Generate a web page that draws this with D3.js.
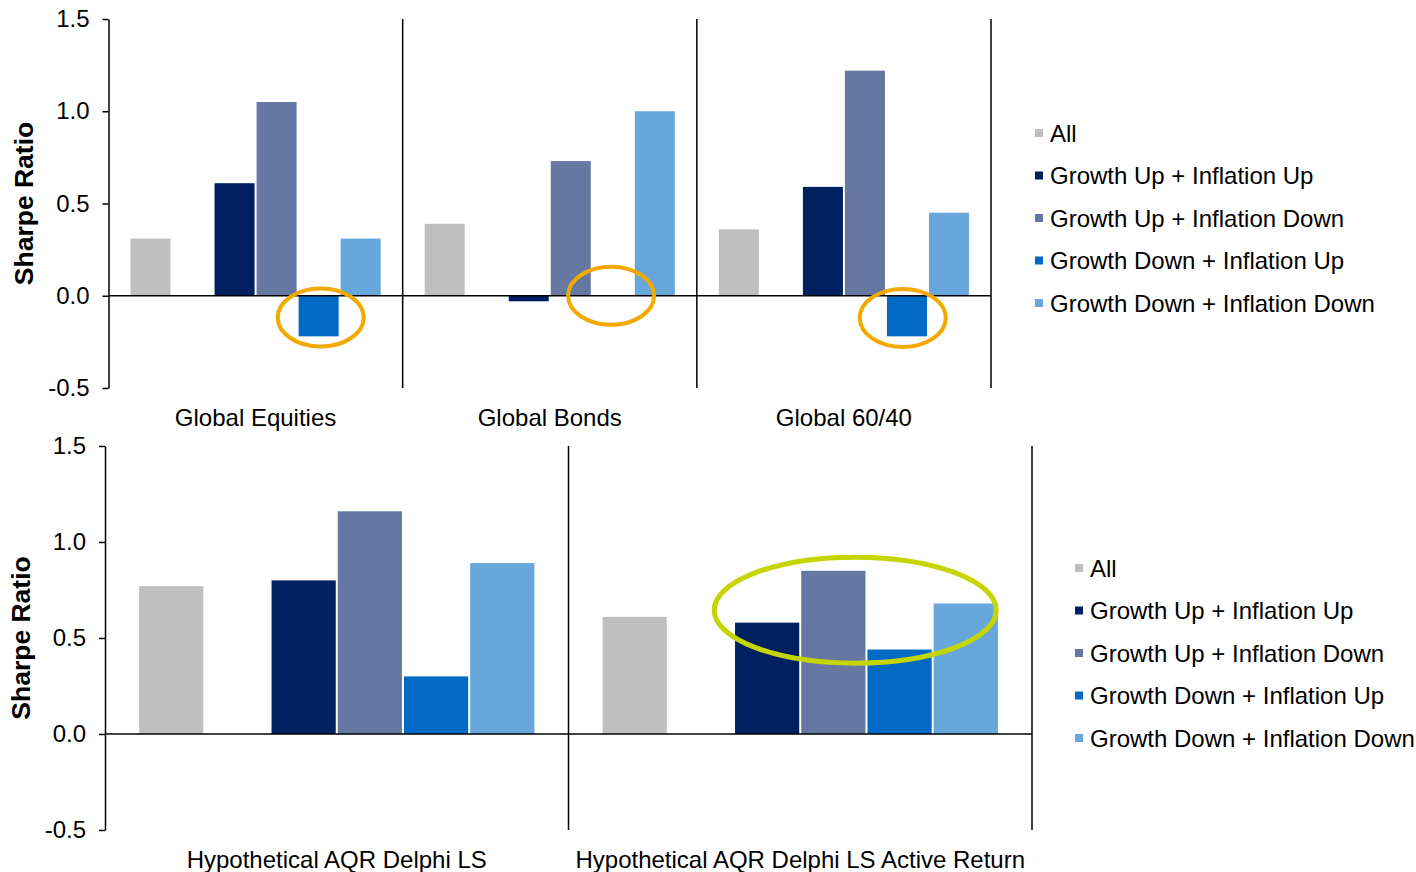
<!DOCTYPE html>
<html>
<head>
<meta charset="utf-8" />
<title>Sharpe Ratio by Growth / Inflation Regime</title>
<script src="https://d3js.org/d3.v7.min.js"></script>
<style>
  body { margin: 0; background: #fff; }
  svg text { font-family: "Liberation Sans", Arial, sans-serif; fill: #000; }
</style>
</head>
<body>
<svg width="1416" height="872"></svg>
<script>
    // Series (legend order)
    var series = ["All", "Growth Up + Inflation Up", "Growth Up + Inflation Down",
                  "Growth Down + Inflation Up", "Growth Down + Inflation Down"];
    var colors = ["#bfbfbf", "#002060", "#6678a2", "#006ac4", "#68a7dc"];

    // Groups
    var topGroups = ["Global Equities", "Global Bonds", "Global 60/40"];
    var bottomGroups = ["Hypothetical AQR Delphi LS", "Hypothetical AQR Delphi LS Active Return"];

    // Sharpe ratios, one array per group, in series order
    var globalEquities = [0.31, 0.61, 1.05, -0.22, 0.31];
    var globalBonds = [0.39, -0.03, 0.73, 0.00, 1.00];
    var global6040 = [0.36, 0.59, 1.22, -0.22, 0.45];
    var delphiLS = [0.77, 0.80, 1.16, 0.30, 0.89];
    var delphiActive = [0.61, 0.58, 0.85, 0.44, 0.68];

    // Y axis ticks
    var yTicks = [-0.5, 0.0, 0.5, 1.0, 1.5];

    var svg = d3.select("svg");
    svg.append("rect").attr("width", 1416).attr("height", 872).attr("fill", "#fff");

    // slot layout inside each group: All, (blank), then the four regimes
    var slotOf = function (i) { return i === 0 ? 0 : i + 1; };

    function drawPanel(cfg) {
        var g = svg.append("g");

        var y = d3.scaleLinear().domain([-0.5, 1.5]).range([cfg.bottom, cfg.top]);
        var xGroup = d3.scaleBand().domain(cfg.groups).range([cfg.left, cfg.right]).padding(0);
        var xSlot = d3.scaleBand().domain(d3.range(6)).range([0, xGroup.bandwidth()])
            .paddingInner(0).paddingOuter(0.5);

        // bars
        cfg.groups.forEach(function (name, gi) {
            var vals = cfg.values[gi];
            g.selectAll(null)
                .data(vals.map(function (v, i) { return { v: v, i: i }; }).filter(function (d) { return d.v !== 0; }))
                .enter()
                .append("rect")
                .attr("x", function (d) { return xGroup(name) + xSlot(slotOf(d.i)) + 1; })
                .attr("width", xSlot.bandwidth() - 2)
                .attr("y", function (d) { return y(Math.max(0, d.v)); })
                .attr("height", function (d) { return Math.abs(y(d.v) - y(0)); })
                .attr("fill", function (d) { return colors[d.i]; });
        });

        // y axis
        var ax = g.append("g")
            .attr("transform", "translate(" + cfg.left + ",0)")
            .call(d3.axisLeft(y).tickValues(yTicks).tickSize(6).tickSizeOuter(0).tickPadding(13)
                .tickFormat(function (d) { return d.toFixed(1); }));
        ax.select(".domain").attr("stroke", "#000").attr("stroke-width", 1.5);
        ax.selectAll(".tick line").attr("stroke", "#000").attr("stroke-width", 1.5);
        ax.selectAll(".tick text").style("font-size", "24px").attr("fill", "#000")
            .style("font-family", "'Liberation Sans', Arial, sans-serif");

        // zero line
        g.append("line")
            .attr("x1", cfg.left).attr("x2", cfg.right)
            .attr("y1", y(0)).attr("y2", y(0))
            .attr("stroke", "#000").attr("stroke-width", 1.5);

        // group dividers
        cfg.groups.forEach(function (name) {
            var xr = xGroup(name) + xGroup.bandwidth();
            g.append("line")
                .attr("x1", xr).attr("x2", xr)
                .attr("y1", y(1.5)).attr("y2", y(-0.5))
                .attr("stroke", "#000").attr("stroke-width", 1.5);
        });

        // group labels
        g.selectAll(".glabel")
            .data(cfg.groups)
            .enter()
            .append("text")
            .attr("class", "glabel")
            .attr("x", function (d) { return xGroup(d) + xGroup.bandwidth() / 2; })
            .attr("y", cfg.labelY)
            .attr("text-anchor", "middle")
            .attr("dominant-baseline", "central")
            .style("font-size", "24px")
            .text(function (d) { return d; });

        // y title
        g.append("text")
            .attr("transform", "translate(" + cfg.titleX + "," + ((cfg.top + cfg.bottom) / 2) + ") rotate(-90)")
            .attr("text-anchor", "middle")
            .attr("dominant-baseline", "central")
            .style("font-size", "26.5px")
            .style("font-weight", "bold")
            .text("Sharpe Ratio");

        // legend
        var leg = g.selectAll(".leg")
            .data(series)
            .enter()
            .append("g")
            .attr("class", "leg")
            .attr("transform", function (d, i) { return "translate(" + cfg.legendX + "," + (cfg.legendY + i * 42.5) + ")"; });
        leg.append("rect")
            .attr("x", 0).attr("y", -4).attr("width", 8).attr("height", 8)
            .attr("fill", function (d, i) { return colors[i]; });
        leg.append("text")
            .attr("x", 15).attr("y", 0)
            .attr("dominant-baseline", "central")
            .style("font-size", "24px")
            .text(function (d) { return d; });

        // annotation ellipses
        (cfg.marks || []).forEach(function (m) {
            g.append("ellipse")
                .attr("cx", xGroup(m.group) + xSlot.step() * (m.slot + 1))
                .attr("cy", y(m.value))
                .attr("rx", m.rx).attr("ry", m.ry)
                .attr("fill", "none")
                .attr("stroke", m.color)
                .attr("stroke-width", m.width);
        });
    }

    drawPanel({
        left: 108.5, right: 991, top: 19, bottom: 388,
        groups: topGroups,
        values: [globalEquities, globalBonds, global6040],
        labelY: 417, titleX: 24,
        legendX: 1035, legendY: 133,
        marks: [
            { group: "Global Equities", slot: 4.05, value: -0.118, rx: 43, ry: 29, color: "#f2a900", width: 4 },
            { group: "Global Bonds", slot: 3.96, value: 0.0, rx: 43, ry: 29, color: "#f2a900", width: 4 },
            { group: "Global 60/40", slot: 3.9, value: -0.12, rx: 43, ry: 29, color: "#f2a900", width: 4 }
        ]
    });

    drawPanel({
        left: 105, right: 1032, top: 446, bottom: 830,
        groups: bottomGroups,
        values: [delphiLS, delphiActive],
        labelY: 859, titleX: 21,
        legendX: 1075, legendY: 568,
        marks: [
            { group: "Hypothetical AQR Delphi LS Active Return", slot: 3.33, value: 0.645, rx: 141, ry: 53, color: "#c5d500", width: 5 }
        ]
    });
</script>
</body>
</html>
